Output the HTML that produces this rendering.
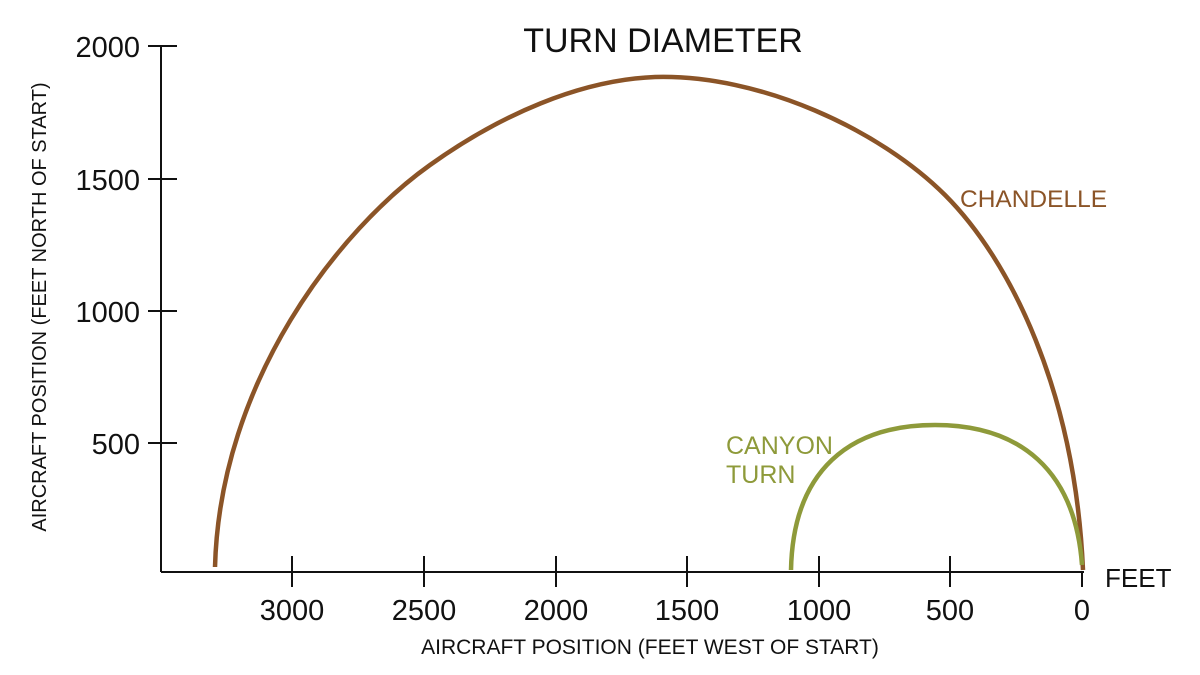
<!DOCTYPE html>
<html><head><style>body{margin:0;background:#fff}svg{display:block}</style></head><body>
<svg width="1200" height="675" xmlns="http://www.w3.org/2000/svg" font-family="Liberation Sans, Arial, sans-serif">
<rect width="1200" height="675" fill="#fff"/>
<text x="663" y="52" font-size="34" text-anchor="middle" fill="#111">TURN DIAMETER</text>
<g stroke="#111" stroke-width="2" fill="none">
<line x1="161" y1="46" x2="161" y2="572"/>
<line x1="161" y1="572" x2="1084" y2="572"/>
<line x1="148" y1="46" x2="177" y2="46"/>
<line x1="148" y1="179" x2="177" y2="179"/>
<line x1="148" y1="311" x2="177" y2="311"/>
<line x1="148" y1="443" x2="177" y2="443"/>
<line x1="292" y1="556" x2="292" y2="587"/>
<line x1="424" y1="556" x2="424" y2="587"/>
<line x1="556" y1="556" x2="556" y2="587"/>
<line x1="687" y1="556" x2="687" y2="587"/>
<line x1="819" y1="556" x2="819" y2="587"/>
<line x1="950" y1="556" x2="950" y2="587"/>
<line x1="1082" y1="572" x2="1082" y2="587"/>
</g>
<g font-size="29" fill="#111" text-anchor="end">
<text x="140" y="57">2000</text>
<text x="140" y="190">1500</text>
<text x="140" y="322">1000</text>
<text x="140" y="454">500</text>
</g>
<g font-size="29" fill="#111" text-anchor="middle">
<text x="292" y="620">3000</text>
<text x="424" y="620">2500</text>
<text x="556" y="620">2000</text>
<text x="687" y="620">1500</text>
<text x="819" y="620">1000</text>
<text x="950" y="620">500</text>
<text x="1082" y="620">0</text>
</g>
<text x="1105" y="587" font-size="26" fill="#111">FEET</text>
<text x="650" y="654" font-size="21" text-anchor="middle" fill="#111">AIRCRAFT POSITION (FEET WEST OF START)</text>
<text transform="translate(46,307) rotate(-90)" font-size="20" text-anchor="middle" fill="#111">AIRCRAFT POSITION (FEET NORTH OF START)</text>
<path d="M215,567 C220,380 340,229 430,165 C500,115 580,80 655,77 C760,74 880,130 945,195 C1010,260 1075,390 1083,570" stroke="#8B5427" stroke-width="4.5" fill="none"/>
<path d="M791,570 C793,470 850,425 935,425 C1020,425 1075,470 1082,565" stroke="#8E9A3A" stroke-width="4.5" fill="none"/>
<text x="960" y="207" font-size="24.5" fill="#8B5427">CHANDELLE</text>
<text x="726" y="454" font-size="25" fill="#8E9A3A">CANYON</text>
<text x="726" y="483" font-size="25" fill="#8E9A3A">TURN</text>
</svg>
</body></html>
